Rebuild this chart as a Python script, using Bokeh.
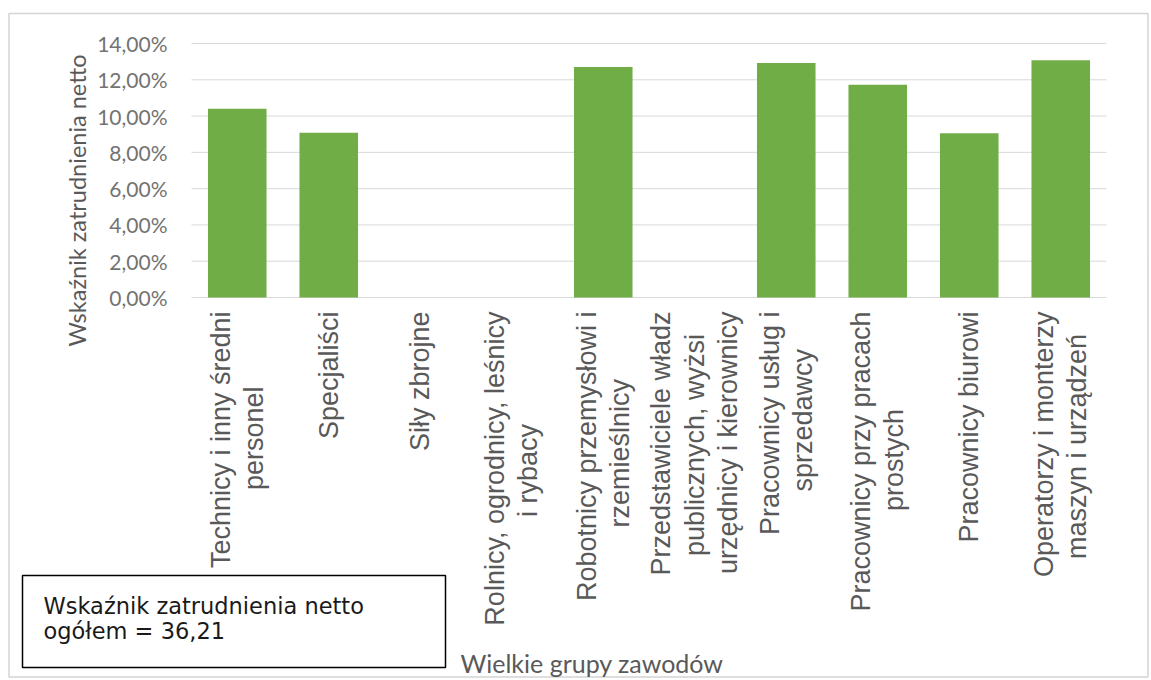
import math
from bokeh.plotting import figure
from bokeh.models import Range1d, ColumnDataSource
from bokeh.core.properties import value
from bokeh.embed import file_html
from bokeh.resources import INLINE

# ---- data ----
categories = [
    "Technicy i inny średni\npersonel",
    "Specjaliści",
    "Siły zbrojne",
    "Rolnicy, ogrodnicy, leśnicy\ni rybacy",
    "Robotnicy przemysłowi i\nrzemieślnicy",
    "Przedstawiciele władz\npublicznych, wyżsi\nurzędnicy i kierownicy",
    "Pracownicy usług i\nsprzedawcy",
    "Pracownicy przy pracach\nprostych",
    "Pracownicy biurowi",
    "Operatorzy i monterzy\nmaszyn i urządzeń",
]
values = [10.41, 9.08, 0.0, 0.0, 12.71, 0.0, 12.93, 11.73, 9.06, 13.08]
y_ticks = [0, 2, 4, 6, 8, 10, 12, 14]
y_tick_labels = ["0,00%", "2,00%", "4,00%", "6,00%", "8,00%", "10,00%", "12,00%", "14,00%"]
y_title = "Wskaźnik zatrudnienia netto"
x_title = "Wielkie grupy zawodów"
note_lines = ["Wskaźnik zatrudnienia netto", "ogółem = 36,21"]

# ---- layout (pixels) ----
W, H = 1150, 678
PLOT_LEFT, PLOT_BOTTOM, PLOT_TOP = 191.0, 297.0, 43.0
CAT_PX = 91.5
Y_MAX = 14.0
UNIT_PX = (PLOT_BOTTOM - PLOT_TOP) / Y_MAX


def X(px):
    return (px - PLOT_LEFT) / CAT_PX


def Y(py):
    return (PLOT_BOTTOM - py) / UNIT_PX


# trailing no-break spaces centre the shorter wrapped lines (labels are end-anchored)
LINE_PAD = {"personel": 10, "i rybacy": 15, "rzemieślnicy": 9,
            "publicznych, wyżsi": 3, "sprzedawcy": 5, "prostych": 13,
            "maszyn i urządzeń": 3}


def shown(label):
    return "\n".join(l + "\u00a0" * LINE_PAD.get(l, 0) for l in label.split("\n"))


GRAY = "#595959"
GRID = "#d9d9d9"

p = figure(width=W, height=H, x_range=Range1d(X(0), X(W)), y_range=Range1d(Y(H), Y(0)),
           output_backend="svg", toolbar_location=None,
           x_axis_location=None, y_axis_location=None,
           min_border=0, min_border_left=0, min_border_right=0,
           min_border_top=0, min_border_bottom=0)
p.outline_line_color = None
p.xgrid.visible = False
p.ygrid.visible = False
p.background_fill_color = "white"
p.border_fill_color = "white"

n = len(categories)
xpos = [i + 0.5 for i in range(n)]

# outer chart border
p.quad(left=[X(8.5)], right=[X(1147.5)], top=[Y(13)], bottom=[Y(676.5)],
       fill_color=None, line_color="#d4d4d4", line_width=1.5)

# horizontal gridlines
p.segment(x0=[0] * len(y_ticks), x1=[n] * len(y_ticks), y0=y_ticks, y1=y_ticks,
          line_color=GRID, line_width=1)

# bars
src = ColumnDataSource(dict(x=xpos, val=values))
p.vbar(x="x", top="val", bottom=0, width=0.64, source=src,
       fill_color="#70AD47", line_color=None)

# y tick labels
p.text(x=[0] * len(y_ticks), y=y_ticks, text=y_tick_labels, x_offset=-24,
       text_align="right", text_baseline="middle",
       text_font=value("Lato"), text_font_size=value("21px"), text_color="#737373")

# category labels (vertical, reading upwards)
p.text(x=xpos, y=[Y(311)] * n, text=[shown(c) for c in categories],
       angle=math.pi / 2, text_align="right", text_baseline="middle",
       text_line_height=1.11,
       text_font=value("Liberation Sans"), text_font_size=value("27px"),
       text_color=GRAY)

# axis titles
p.text(x=[X(591.5)], y=[Y(662)], text=[x_title], text_align="center",
       text_baseline="alphabetic", text_font=value("Lato"),
       text_font_size=value("25px"), text_color=GRAY)
p.text(x=[X(76)], y=[Y(200)], text=[y_title], angle=math.pi / 2,
       text_align="center", text_baseline="middle", text_font=value("Lato"),
       text_font_size=value("23.5px"), text_color=GRAY)

# note box
p.quad(left=[X(22)], right=[X(445)], top=[Y(575)], bottom=[Y(667)],
       fill_color="white", line_color="black", line_width=1.5)
p.text(x=[X(43)] * 2, y=[Y(605), Y(630)], text=note_lines, text_align="left",
       text_baseline="alphabetic", text_font=value("DejaVu Sans"),
       text_font_size=value("22.5px"), text_color="#1a1a1a")

open("out.html", "w").write(file_html(p, INLINE))
